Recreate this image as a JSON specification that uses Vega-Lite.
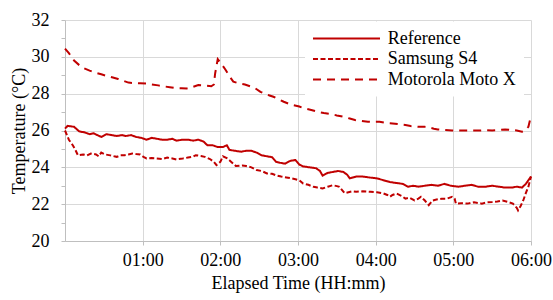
{
  "$schema": "https://vega.github.io/schema/vega-lite/v6.json",
  "width": 466,
  "height": 221,
  "autosize": {"type": "none"},
  "padding": {"left": 65, "top": 20, "right": 22, "bottom": 59},
  "background": "white",
  "config": {
    "font": "Liberation Serif",
    "view": {"stroke": null},
    "axis": {
      "labelFont": "Liberation Serif",
      "titleFont": "Liberation Serif",
      "labelFontSize": 18,
      "titleFontSize": 18,
      "titleFontWeight": "normal",
      "labelColor": "black",
      "titleColor": "black",
      "domainColor": "#bfbfbf",
      "tickColor": "#bfbfbf",
      "gridColor": "#d9d9d9",
      "domainWidth": 1,
      "tickWidth": 1,
      "gridWidth": 1,
      "labelOverlap": false
    },
    "legend": {
      "labelFont": "Liberation Serif",
      "labelFontSize": 18,
      "labelColor": "black"
    }
  },
  "datasets": {
    "ref": [
      [0,26.1],[2,26.25],[7,26.2],[11,25.95],[15,25.9],[19,25.8],[22,25.85],[25,25.75],[28,25.65],[32,25.8],[36,25.75],[40,25.7],[44,25.75],[47,25.7],[51,25.75],[55,25.65],[59,25.6],[63,25.5],[67,25.6],[71,25.55],[75,25.5],[79,25.5],[83,25.55],[86,25.45],[91,25.5],[95,25.5],[99,25.45],[103,25.5],[107,25.4],[110,25.2],[114,25.2],[118,25.1],[122,25.1],[125,25.2],[127,24.95],[131,24.9],[136,24.85],[140,24.9],[144,24.9],[148,24.8],[152,24.65],[156,24.6],[160,24.55],[163,24.3],[166,24.25],[170,24.2],[174,24.35],[178,24.4],[181,24.15],[184,24.05],[189,24.0],[194,23.95],[197,23.8],[199,23.55],[203,23.7],[207,23.75],[211,23.8],[215,23.75],[218,23.6],[220,23.4],[225,23.5],[230,23.5],[235,23.45],[241,23.4],[246,23.3],[251,23.2],[256,23.15],[261,23.1],[265,22.95],[269,23.0],[273,22.95],[278,23.0],[283,23.05],[288,23.0],[293,23.1],[298,23.0],[304,22.95],[309,23.0],[314,23.05],[319,22.95],[325,22.95],[330,23.0],[335,22.95],[340,22.9],[345,22.9],[349,22.95],[353,22.9],[356,23.1],[358,23.3],[360,23.5]
    ],
    "sam": [
      [0,26.0],[3,25.5],[6,25.2],[8,24.95],[10,24.65],[14,24.7],[17,24.65],[20,24.75],[24,24.7],[26,24.6],[28,24.8],[31,24.7],[35,24.65],[38,24.6],[40,24.57],[43,24.65],[46,24.66],[49,24.7],[52,24.75],[55,24.72],[58,24.7],[61,24.55],[63,24.48],[67,24.5],[71,24.48],[75,24.45],[79,24.53],[83,24.48],[86,24.43],[91,24.48],[95,24.53],[99,24.58],[101,24.66],[105,24.62],[108,24.57],[112,24.45],[115,24.3],[117,24.12],[120,24.3],[122,24.6],[125,24.5],[127,24.39],[130,24.2],[132,24.07],[137,24.1],[140,24.07],[144,24.0],[148,23.85],[152,23.8],[156,23.67],[160,23.65],[163,23.57],[167,23.5],[171,23.45],[175,23.4],[178,23.35],[181,23.3],[184,23.12],[188,23.05],[192,22.94],[195,22.9],[199,22.85],[203,22.95],[207,23.03],[210,22.98],[212,22.94],[216,22.6],[219,22.65],[222,22.7],[225,22.67],[230,22.7],[236,22.67],[241,22.65],[246,22.58],[249,22.5],[251,22.4],[253,22.5],[256,22.58],[260,22.45],[263,22.3],[266,22.35],[270,22.2],[273,22.3],[275,22.4],[278,22.2],[281,21.95],[284,22.2],[287,22.25],[291,22.3],[295,22.3],[299,22.4],[301,22.3],[302,22.03],[306,22.05],[311,22.03],[316,22.1],[322,22.03],[326,22.1],[330,22.12],[334,22.15],[338,22.2],[343,22.1],[346,22.03],[349,21.8],[350,21.66],[352,21.9],[354,22.2],[356,22.6],[358,22.95],[360,23.5]
    ],
    "moto": [
      [0,30.45],[3,30.2],[7,29.8],[11,29.55],[14,29.4],[19,29.25],[23,29.15],[28,29.05],[32,28.97],[37,28.88],[41,28.8],[45,28.7],[49,28.6],[54,28.57],[58,28.56],[63,28.55],[67,28.5],[72,28.45],[76,28.4],[81,28.35],[86,28.3],[90,28.3],[94,28.28],[98,28.35],[103,28.47],[108,28.45],[113,28.4],[115,28.5],[116,29.1],[118,29.88],[120,29.7],[124,29.3],[127,28.95],[130,28.65],[135,28.55],[139,28.5],[143,28.4],[147,28.29],[151,28.1],[154,28.0],[158,27.9],[161,27.83],[165,27.7],[169,27.56],[173,27.45],[176,27.38],[181,27.3],[185,27.2],[191,27.1],[196,27.0],[200,26.95],[205,26.9],[210,26.82],[215,26.75],[220,26.65],[224,26.57],[229,26.52],[234,26.48],[239,26.47],[243,26.48],[247,26.43],[251,26.4],[257,26.35],[263,26.3],[267,26.24],[273,26.2],[278,26.2],[281,26.17],[285,26.1],[288,26.06],[293,26.03],[299,26.0],[305,26.0],[309,26.0],[315,26.0],[320,26.0],[325,26.02],[330,26.0],[335,26.03],[340,26.06],[344,26.03],[349,26.0],[353,25.93],[355,25.97],[358,26.2],[360,26.8]
    ]
  },
  "layer": [
    {
      "data": {"name": "ref"},
      "transform": [
        {"calculate": "datum[0]", "as": "minute"},
        {"calculate": "datum[1]", "as": "temp"},
        {"calculate": "'Reference'", "as": "series"}
      ],
      "mark": {"type": "line", "color": "#C00000", "strokeWidth": 2},
      "encoding": {
        "x": {"field": "minute", "type": "quantitative"},
        "y": {"field": "temp", "type": "quantitative"},
        "strokeDash": {"field": "series", "type": "nominal"}
      }
    },
    {
      "data": {"name": "sam"},
      "transform": [
        {"calculate": "datum[0]", "as": "minute"},
        {"calculate": "datum[1]", "as": "temp"},
        {"calculate": "'Samsung S4'", "as": "series"}
      ],
      "mark": {"type": "line", "color": "#C00000", "strokeWidth": 2},
      "encoding": {
        "x": {"field": "minute", "type": "quantitative"},
        "y": {"field": "temp", "type": "quantitative"},
        "strokeDash": {"field": "series", "type": "nominal"}
      }
    },
    {
      "data": {"name": "moto"},
      "transform": [
        {"calculate": "datum[0]", "as": "minute"},
        {"calculate": "datum[1]", "as": "temp"},
        {"calculate": "'Motorola Moto X'", "as": "series"}
      ],
      "mark": {"type": "line", "color": "#C00000", "strokeWidth": 2},
      "encoding": {
        "x": {
          "field": "minute",
          "type": "quantitative",
          "scale": {"domain": [0, 360], "nice": false, "zero": false},
          "axis": {
            "title": "Elapsed Time (HH:mm)",
            "values": [60, 120, 180, 240, 300, 360],
            "tickCount": 20,
            "labelExpr": "'0' + (datum.value / 60) + ':00'",
            "grid": true,
            "tickSize": 4,
            "labelPadding": 6,
            "titlePadding": 5,
            "labelFlush": false,
            "labelOverlap": false
          }
        },
        "y": {
          "field": "temp",
          "type": "quantitative",
          "scale": {"domain": [20, 32], "nice": false, "zero": false},
          "axis": {
            "title": "Temperature (°C)",
            "values": [20, 21, 22, 23, 24, 25, 26, 27, 28, 29, 30, 31, 32],
            "tickCount": 20,
            "format": "d",
            "labelExpr": "datum.value % 2 == 0 ? datum.label : ''",
            "grid": true,
            "gridOpacity": {"condition": {"test": "datum.value % 2 == 1", "value": 0}, "value": 1},
            "tickSize": 4,
            "labelPadding": 12,
            "titlePadding": 3,
            "labelOverlap": false,
            "labelFlush": false
          }
        },
        "strokeDash": {
          "field": "series",
          "type": "nominal",
          "scale": {
            "domain": ["Reference", "Samsung S4", "Motorola Moto X"],
            "range": [[1, 0], [5, 2.5], [8, 6]]
          },
          "legend": {
            "title": null,
            "orient": "none",
            "legendX": 240,
            "legendY": 1.5,
            "padding": 8,
            "fillColor": "white",
            "symbolType": "M-4.1875,0H4.1875",
            "symbolSize": 256,
            "symbolStrokeWidth": 2,
            "symbolStrokeColor": "#C00000",
            "symbolOffset": 24.5,
            "labelOffset": 32.2,
            "rowPadding": 2.5
          }
        }
      }
    }
  ]
}
